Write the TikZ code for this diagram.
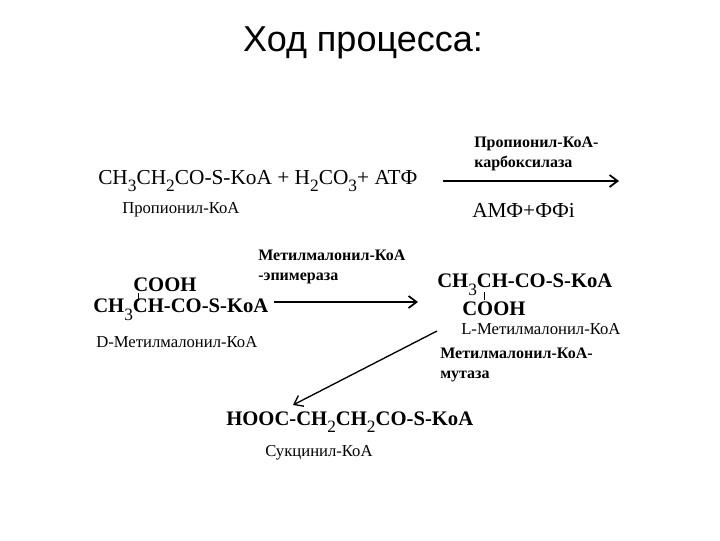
\documentclass[tikz,border=0pt]{standalone}
\usepackage{fontspec}
\usetikzlibrary{arrows.meta}
\setmainfont{Liberation Serif}
\newfontfamily\titlefont{Liberation Sans}
\newcommand{\lw}[1]{\raisebox{-0.8ex}{\fontsize{13}{13}\selectfont\mdseries #1}}
\begin{document}
\begin{tikzpicture}[x=0.75pt,y=-0.75pt,
  bigt/.style={anchor=west,inner sep=0,font=\fontsize{16}{16}\selectfont},
  bigbt/.style={anchor=west,inner sep=0,font=\fontsize{15.5}{16}\selectfont\bfseries},
  lbl/.style={anchor=west,inner sep=0,font=\fontsize{12.5}{13}\selectfont},
  enz/.style={anchor=west,inner sep=0,font=\fontsize{12}{15}\selectfont\bfseries},
  arr/.style={line width=1.3pt,-{Straight Barb[length=6pt,width=9pt]}}]
\useasboundingbox (0,0) rectangle (720,540);
\node[inner sep=0,font=\titlefont\fontsize{27}{27}\selectfont] (t) at (363,43) {Ход процесса:};
\node[bigt] (f1) at (98,181) {CH\lw{3}CH\lw{2}CO-S-KoA + H\lw{2}CO\lw{3}+ ATФ};
\node[lbl] (n1) at (122,210) {Пропионил-КоА};
\coordinate (a1s) at (443,181); \coordinate (a1e) at (619,181);
\draw[arr] (a1s) -- (a1e);
\node[enz,align=left,anchor=north west] (e1) at (474,137) {Пропионил-КоА-\\карбоксилаза};
\node[bigt] (p1) at (472,210) {АМФ+ФФі};
\node[enz,align=left,anchor=north west] (e2) at (258,250) {Метилмалонил-КоА\\-эпимераза};
\node[bigbt] (c1) at (133,285) {COOH};
\node[bigbt] (f2) at (93,310) {CH\lw{3}CH-CO-S-KoA};
\draw[line width=0.7pt] (138,293) -- (138,301);
\node[lbl] (n2) at (96,342) {D-Метилмалонил-КоА};
\coordinate (a2s) at (274,302); \coordinate (a2e) at (418,302);
\draw[arr] (a2s) -- (a2e);
\node[bigbt] (f3) at (437,285) {CH\lw{3}CH-CO-S-KoA};
\draw[line width=0.7pt] (484,292) -- (484,300);
\node[bigbt] (c2) at (462,309) {COOH};
\node[lbl] (n3) at (461,329) {L-Метилмалонил-КоА};
\coordinate (a3s) at (437,331); \coordinate (a3e) at (293,405);
\draw[arr,line width=1pt] (a3s) -- (a3e);
\node[enz,align=left,anchor=north west] (e3) at (440,348) {Метилмалонил-КоА-\\мутаза};
\node[bigbt] (f4) at (226,422) {HOOC-CH\lw{2}CH\lw{2}CO-S-KoA};
\node[lbl] (n4) at (265,453) {Сукцинил-КоА};
\end{tikzpicture}
\end{document}
